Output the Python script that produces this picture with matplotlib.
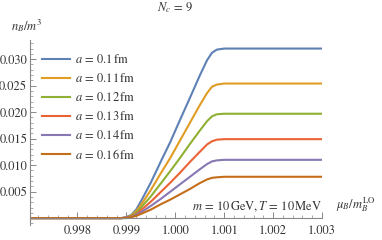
import matplotlib
matplotlib.use('Agg')
import matplotlib.pyplot as plt
from matplotlib.ticker import MultipleLocator, FixedLocator

plt.rcParams['mathtext.fontset'] = 'stix'
plt.rcParams['font.family'] = ['STIXGeneral', 'Liberation Serif', 'DejaVu Serif']

# mu_B / m_B^LO
mu = [0.99703, 0.9989, 0.9990, 0.9991, 0.9992, 0.9993, 0.9995, 0.9997, 0.9999,
      1.0001, 1.0003, 1.0005, 1.00065, 1.00075, 1.00085, 1.001, 1.003]

# n_B / m^3 for each lattice spacing
n_01 = [0, 0, 0.0002, 0.0006, 0.0016, 0.0032, 0.0067, 0.0106, 0.0144,
        0.0186, 0.0227, 0.0269, 0.0298, 0.0312, 0.0318, 0.0320, 0.0320]
n_011 = [0, 0, 0.0001, 0.0005, 0.0013, 0.0025, 0.0053, 0.0084, 0.0114,
         0.0147, 0.0180, 0.0213, 0.0236, 0.0248, 0.0252, 0.0254, 0.0254]
n_012 = [0, 0, 0.0001, 0.0004, 0.0010, 0.0020, 0.0041, 0.0065, 0.0089,
         0.0114, 0.0140, 0.0165, 0.0183, 0.0192, 0.0196, 0.0197, 0.0197]
n_013 = [0, 0, 0.0001, 0.0003, 0.0007, 0.0015, 0.0031, 0.0049, 0.0067,
         0.0086, 0.0106, 0.0125, 0.0139, 0.0145, 0.0148, 0.0149, 0.0149]
n_014 = [0, 0, 0.0001, 0.0002, 0.0006, 0.0011, 0.0023, 0.0036, 0.0050,
         0.0064, 0.0078, 0.0092, 0.0102, 0.0107, 0.0109, 0.0110, 0.0110]
n_016 = [0, 0, 0, 0.0002, 0.0004, 0.0008, 0.0016, 0.0026, 0.0035,
         0.0045, 0.0055, 0.0066, 0.0073, 0.0076, 0.0077, 0.0078, 0.0078]

series = [n_01, n_011, n_012, n_013, n_014, n_016]
labels = ['0.1', '0.11', '0.12', '0.13', '0.14', '0.16']
colors = ['#5E81B5', '#E19C24', '#8FB032', '#EB6235', '#8778B3', '#C56E1A']

fig = plt.figure(figsize=(3.82, 2.40), dpi=100)
ax = fig.add_axes([0.0785, 0.0625, 0.7645, 0.7705])

for y, lab, c in zip(series, labels, colors):
    ax.plot(mu, y, color=c, lw=1.5, label=r'$a \,=\, %s\,\mathrm{fm}$' % lab)

ax.set_xlim(0.99703, 1.003)
ax.set_ylim(-0.0013, 0.0336)

for s in ['top', 'right']:
    ax.spines[s].set_visible(False)
ax.spines['bottom'].set_position(('data', 0))
for s in ['left', 'bottom']:
    ax.spines[s].set_color('#888888')
    ax.spines[s].set_linewidth(0.8)

ax.xaxis.set_major_locator(FixedLocator([0.998, 0.999, 1.000, 1.001, 1.002, 1.003]))
ax.xaxis.set_minor_locator(MultipleLocator(0.0002))
ax.yaxis.set_major_locator(FixedLocator([0.005, 0.010, 0.015, 0.020, 0.025, 0.030]))
ax.yaxis.set_minor_locator(MultipleLocator(0.001))
ax.set_xticklabels(['0.998', '0.999', '1.000', '1.001', '1.002', '1.003'])
ax.set_yticklabels(['0.005', '0.010', '0.015', '0.020', '0.025', '0.030'])
ax.tick_params(which='both', direction='in', color='#888888', labelcolor='#333333',
               labelsize=9)
ax.tick_params(which='major', length=4, width=0.7)
ax.tick_params(which='minor', length=2, width=0.5)
ax.tick_params(axis='x', which='both', pad=5)
ax.tick_params(axis='y', which='both', pad=2)

ax.legend(loc='upper left', bbox_to_anchor=(0.01, 0.975), frameon=False,
          fontsize=9, handlelength=2.3, handletextpad=0.35, labelspacing=0.47,
          labelcolor='#333333', borderaxespad=0.3)

ax.text(1.0, 0.10, r'$m \,=\, 10\,\mathrm{GeV}, T \,=\, 10\,\mathrm{MeV}$',
        transform=ax.transAxes, ha='right', va='center', fontsize=9, color='#333333')

fig.text(0.459, 0.97, r'$N_c \,=\, 9$', ha='center', va='center', fontsize=9, color='#333333')
fig.text(0.03, 0.895, r'$n_B/m^3$', ha='left', va='center', fontsize=9, color='#333333')
fig.text(0.88, 0.148, r'$\mu_B/m_B^{\mathrm{LO}}$', ha='left', va='center', fontsize=9,
         color='#333333')

plt.savefig('out.png', dpi=100)
